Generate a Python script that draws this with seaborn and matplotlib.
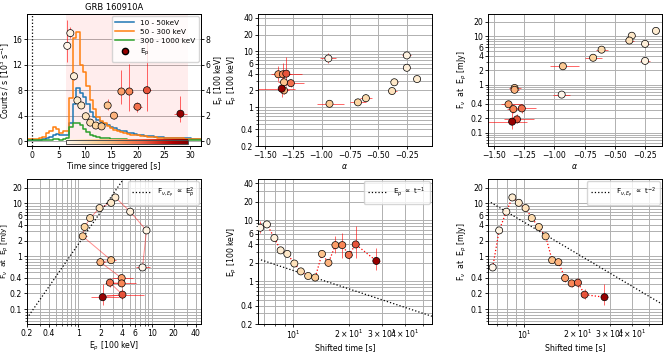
import numpy as np
import matplotlib
matplotlib.use('Agg')
import matplotlib.pyplot as plt
from matplotlib import ticker
from matplotlib.lines import Line2D
from matplotlib.colors import Normalize
import seaborn as sns

plt.rcParams.update({
    'font.size': 5.6,
    'axes.linewidth': 0.7,
    'axes.labelpad': 1.5,
    'axes.titlepad': 3,
    'grid.linewidth': 0.7,
    'xtick.major.size': 2, 'ytick.major.size': 2,
    'xtick.minor.size': 1.2, 'ytick.minor.size': 1.2,
    'xtick.major.width': 0.6, 'ytick.major.width': 0.6,
    'xtick.minor.width': 0.5, 'ytick.minor.width': 0.5,
    'xtick.major.pad': 1.5, 'ytick.major.pad': 1.5,
    'xtick.minor.pad': 1.5, 'ytick.minor.pad': 1.5,
})

# ---- light curves (0.64 s bins, first bin starts at -1.28 s) ----
lc_start = -1.28
lc_width = 0.64
lc_10_50 = [0.2, 0.2, 0.2, 0.2, 0.2, 0.3, 0.5, 0.7, 1.0, 1.1, 1.0, 0.9, 1.0,
            2.9, 5.8, 8.4, 7.6, 7.0, 5.9, 4.6, 3.8, 3.3, 3.0, 2.7, 2.5, 2.2,
            2.0, 1.8, 1.6, 1.5, 1.3, 1.2, 1.1, 1.0, 0.95, 0.85, 0.8, 0.75, 0.7,
            0.65, 0.6, 0.55, 0.5, 0.5, 0.45, 0.45, 0.4, 0.4, 0.4, 0.35, 0.35, 0.35]
lc_50_300 = [0.3, 0.3, 0.3, 0.3, 0.4, 0.6, 1.2, 1.6, 2.2, 1.9, 1.3, 1.6, 1.5,
             6.8, 16.3, 17.2, 12.0, 10.8, 8.6, 6.5, 5.0, 3.8, 3.2, 2.8, 2.3, 2.0,
             1.8, 1.6, 1.4, 1.3, 1.1, 1.0, 0.95, 0.9, 0.8, 0.75, 0.7, 0.65, 0.6,
             0.55, 0.5, 0.5, 0.45, 0.45, 0.4, 0.4, 0.4, 0.35, 0.35, 0.3, 0.3, 0.3]
lc_300_1000 = [0.1, 0.1, 0.1, 0.1, 0.1, 0.1, 0.2, 0.2, 0.3, 0.3, 0.2, 0.3, 0.5,
               2.2, 2.9, 2.8, 2.5, 1.9, 1.4, 1.0, 0.8, 0.6, 0.5, 0.45, 0.4, 0.35,
               0.3, 0.3, 0.25, 0.25, 0.2, 0.2, 0.2, 0.2, 0.2, 0.15, 0.15, 0.15, 0.15,
               0.15, 0.15, 0.1, 0.1, 0.1, 0.1, 0.1, 0.1, 0.1, 0.1, 0.1, 0.1, 0.1]
burst_window = (6.4, 29.44)

# ---- time-resolved spectral fits ----
t_mid = [6.64, 7.22, 7.92, 8.56, 9.3, 10.15, 11.0, 12.05, 13.15, 14.3, 15.5,
         16.9, 18.4, 19.95, 21.75, 28.1]
t_err = [0.24, 0.3, 0.3, 0.3, 0.35, 0.4, 0.4, 0.45, 0.5, 0.5, 0.55,
         0.65, 0.7, 0.8, 0.8, 1.15]
ep = [7.5, 8.5, 5.1, 3.2, 2.8, 1.95, 1.45, 1.22, 1.15, 2.8, 2.0,
      3.9, 3.9, 2.7, 4.0, 2.15]
ep_lo = [1.3, 0.4, 0.3, 0.2, 0.15, 0.12, 0.1, 0.1, 0.12, 0.35, 0.25,
         1.0, 1.5, 0.4, 1.6, 0.65]
ep_hi = [2.0, 0.5, 0.3, 0.2, 0.15, 0.12, 0.1, 0.1, 0.15, 0.5, 0.3,
         1.7, 2.2, 0.35, 3.9, 1.4]
alpha = [-0.94, -0.25, -0.25, -0.16, -0.36, -0.38, -0.61, -0.68, -0.93, -1.33, -1.33,
         -1.38, -1.34, -1.27, -1.31, -1.35]
alpha_lo = [0.07, 0.04, 0.03, 0.025, 0.03, 0.04, 0.05, 0.07, 0.11, 0.05, 0.04,
            0.06, 0.05, 0.08, 0.11, 0.21]
alpha_hi = [0.07, 0.04, 0.03, 0.025, 0.03, 0.04, 0.05, 0.07, 0.13, 0.05, 0.04,
            0.11, 0.06, 0.12, 0.14, 0.12]
flux = [0.62, 3.1, 7.0, 13.0, 10.3, 8.2, 5.3, 3.6, 2.4, 0.85, 0.78,
        0.39, 0.31, 0.32, 0.19, 0.17]
flux_lo = [0.05, 0.2, 0.5, 0.8, 0.7, 0.6, 0.4, 0.3, 0.25, 0.08, 0.07,
           0.06, 0.05, 0.06, 0.03, 0.05]
flux_hi = [0.05, 0.2, 0.5, 0.8, 0.7, 0.6, 0.4, 0.3, 0.25, 0.08, 0.07,
           0.06, 0.05, 0.08, 0.05, 0.13]

# normalisations of the reference power laws
norm_f_ep2 = 1.7
norm_ep_t1 = 15.0
norm_f_t2 = 440.0

log_ticks = [0.1, 0.2, 0.4, 1, 2, 4, 6, 10, 20, 40]
alpha_ticks = [-1.5, -1.25, -1.0, -0.75, -0.5, -0.25]
ep_lim = (0.2, 47)
flux_lim = (0.053, 29)

cmap = plt.get_cmap('OrRd')
tnorm = Normalize(*burst_window)
pt_colors = [cmap(tnorm(t)) for t in t_mid]


def fmt_log_axis(axis):
    axis.set_major_locator(ticker.FixedLocator(log_ticks))
    axis.set_major_formatter(ticker.FuncFormatter(lambda v, p: f'{v:g}'))
    axis.set_minor_formatter(ticker.NullFormatter())


def puntos(ax, x, y, xerr, yerr, line=None):
    if line == 'solid':
        sns.lineplot(x=x, y=y, sort=False, estimator=None, color='red', lw=0.7,
                     alpha=0.45, ax=ax, zorder=1)
    elif line == 'dotted':
        sns.lineplot(x=x, y=y, sort=False, estimator=None, color='red', lw=0.9,
                     ls=':', ax=ax, zorder=1)
    ax.errorbar(x, y, xerr=xerr, yerr=yerr, fmt='none', ecolor='red',
                elinewidth=0.7, alpha=0.6, zorder=2)
    sns.scatterplot(x=x, y=y, hue=t_mid, palette='OrRd', hue_norm=burst_window,
                    edgecolor='k', linewidth=0.5, s=26, legend=False, ax=ax, zorder=3)


fig = plt.figure(figsize=(6.68, 3.52), dpi=100)
w = 0.2605
lefts = [0.0404, 0.386, 0.7305]
ax1 = fig.add_axes([lefts[0], 0.585, w, 0.375])
ax2 = fig.add_axes([lefts[1], 0.585, w, 0.375])
ax3 = fig.add_axes([lefts[2], 0.585, w, 0.375])
ax4 = fig.add_axes([lefts[0], 0.0795, w, 0.412])
ax5 = fig.add_axes([lefts[1], 0.0795, w, 0.412])
ax6 = fig.add_axes([lefts[2], 0.0795, w, 0.412])

# ---- panel 1: light curve + Ep evolution ----
t_edges = lc_start + lc_width * np.arange(len(lc_10_50) + 1)
for vals, col, lab in [(lc_10_50, 'tab:blue', '10 - 50keV'),
                       (lc_50_300, 'tab:orange', '50 - 300 keV'),
                       (lc_300_1000, 'tab:green', '300 - 1000 keV')]:
    sns.lineplot(x=t_edges, y=list(vals) + [vals[-1]], drawstyle='steps-post',
                 color=col, lw=1.1, ax=ax1, label=lab)
ax1.axvspan(*burst_window, color='red', alpha=0.07, lw=0)
ax1.axvline(0, color='k', ls=':', lw=0.9)
grad = np.linspace(0, 1, 256)[None, :]
ax1.imshow(grad, cmap='OrRd', aspect='auto',
           extent=(burst_window[0], burst_window[1], -0.52, 0.22), zorder=2)
ax1.add_patch(plt.Rectangle((burst_window[0], -0.52), burst_window[1] - burst_window[0], 0.74,
                            fill=False, ec='0.3', lw=0.7, zorder=3))
ax1.set_xlim(-1, 32)
ax1.set_ylim(-0.8, 20)
ax1.set_yticks([0, 4, 8, 12, 16])
ax1.set_xticks([0, 5, 10, 15, 20, 25, 30])
ax1.yaxis.grid(True)
ax1.set_axisbelow(True)
ax1.set_xlabel('Time since triggered [s]')
ax1.set_ylabel(r'Counts / s [10$^3$ s$^{-1}$]')
ax1.yaxis.set_label_coords(-0.085, 0.5)
ax1.set_title('GRB 160910A', fontsize=6)
ax1.get_legend().remove()

ax1b = ax1.twinx()
ax1b.errorbar(t_mid, ep, xerr=t_err, yerr=[ep_lo, ep_hi], fmt='none', ecolor='red',
              elinewidth=0.7, alpha=0.6, zorder=2)
sns.scatterplot(x=t_mid, y=ep, hue=t_mid, palette='OrRd', hue_norm=burst_window,
                edgecolor='k', linewidth=0.5, s=26, legend=False, ax=ax1b, zorder=3)
ax1b.set_ylim(-0.4, 10)
ax1b.set_yticks([0, 2, 4, 6, 8])
ax1b.set_ylabel(r'E$_p$ [100 keV]')
handles = [Line2D([], [], color='tab:blue', lw=1.1),
           Line2D([], [], color='tab:orange', lw=1.1),
           Line2D([], [], color='tab:green', lw=1.1),
           Line2D([], [], ls='none', marker='o', mfc=pt_colors[-1], mec='k', ms=4.5)]
ax1b.legend(handles, ['10 - 50keV', '50 - 300 keV', '300 - 1000 keV', r'E$_{\rm p}$'],
            loc='upper right', fontsize=5.2, framealpha=0.8, borderpad=0.5,
            labelspacing=0.4, handlelength=2.6, borderaxespad=0.3)

# ---- panel 2: Ep vs alpha ----
ax2.set_yscale('log')
puntos(ax2, alpha, ep, [alpha_lo, alpha_hi], [ep_lo, ep_hi])
ax2.set_xlim(-1.56, -0.03)
ax2.set_xticks(alpha_ticks)
ax2.set_ylim(*ep_lim)
fmt_log_axis(ax2.yaxis)
ax2.set_xlabel(r'$\alpha$')
ax2.set_ylabel(r'E$_p$ [100 keV]')

# ---- panel 3: Fnu at Ep vs alpha ----
ax3.set_yscale('log')
puntos(ax3, alpha, flux, [alpha_lo, alpha_hi], [flux_lo, flux_hi])
ax3.set_xlim(-1.55, -0.11)
ax3.set_xticks(alpha_ticks)
ax3.set_ylim(*flux_lim)
fmt_log_axis(ax3.yaxis)
ax3.set_xlabel(r'$\alpha$')
ax3.set_ylabel(r'F$_\nu$  at  E$_p$ [mJy]')

# ---- panel 4: Fnu vs Ep ----
ax4.set_xscale('log')
ax4.set_yscale('log')
e_line = np.geomspace(*ep_lim, 100)
ax4.plot(e_line, norm_f_ep2 * e_line ** 2, 'k:', lw=0.9,
         label=r'F$_{\nu,E_p}$ $\propto$ E$_p^2$')
puntos(ax4, ep, flux, [ep_lo, ep_hi], [flux_lo, flux_hi], line='solid')
ax4.set_xlim(*ep_lim)
ax4.set_ylim(*flux_lim)
fmt_log_axis(ax4.xaxis)
fmt_log_axis(ax4.yaxis)
ax4.set_xlabel(r'E$_p$ [100 keV]')
ax4.set_ylabel(r'F$_\nu$  at  E$_p$ [mJy]', fontsize=5.3)
ax4.yaxis.set_label_coords(-0.093, 0.5)

# ---- panel 5: Ep vs shifted time ----
ax5.set_xscale('log')
ax5.set_yscale('log')
t5 = (6.45, 56)
t_line = np.geomspace(*t5, 100)
ax5.plot(t_line, norm_ep_t1 / t_line, 'k:', lw=0.9, label=r'E$_p$ $\propto$ t$^{-1}$')
puntos(ax5, t_mid, ep, t_err, [ep_lo, ep_hi], line='dotted')
ax5.set_xlim(*t5)
ax5.set_ylim(*ep_lim)
fmt_log_axis(ax5.yaxis)
ax5.set_xlabel('Shifted time [s]')
ax5.set_ylabel(r'E$_p$ [100 keV]')

# ---- panel 6: Fnu vs shifted time ----
ax6.set_xscale('log')
ax6.set_yscale('log')
t6 = (6.25, 59)
t_line = np.geomspace(*t6, 100)
ax6.plot(t_line, norm_f_t2 / t_line ** 2, 'k:', lw=0.9,
         label=r'F$_{\nu,E_p}$ $\propto$ t$^{-2}$')
puntos(ax6, t_mid, flux, t_err, [flux_lo, flux_hi], line='dotted')
ax6.set_xlim(*t6)
ax6.set_ylim(*flux_lim)
fmt_log_axis(ax6.yaxis)
ax6.set_xlabel('Shifted time [s]')
ax6.set_ylabel(r'F$_\nu$  at  E$_p$ [mJy]')

for ax in (ax2, ax3, ax4, ax5, ax6):
    ax.grid(True, which='both')
    ax.set_axisbelow(True)
for ax in (ax4, ax5, ax6):
    ax.legend(loc='upper right', fontsize=5.2, handlelength=2.6, borderaxespad=0.3,
              borderpad=0.6)

fig.savefig('out.png', dpi=100)
